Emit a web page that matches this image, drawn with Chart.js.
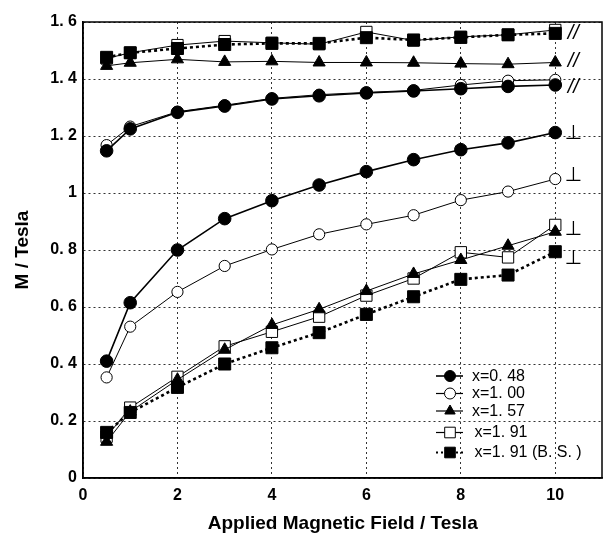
<!DOCTYPE html>
<html>
<head>
<meta charset="utf-8">
<script src="https://cdn.jsdelivr.net/npm/chart.js@4/dist/chart.umd.min.js"></script>
<style>
html,body{margin:0;padding:0;background:#fff;}
#wrap{width:612px;height:538px;}
</style>
</head>
<body>
<div id="wrap"><canvas id="c" width="612" height="538"></canvas></div>
<script>
// ---- data ----
const fieldValues = [0.5, 1, 2, 3, 4, 5, 6, 7, 8, 9, 10];

// parallel (//)
const par_x048   = [1.148, 1.225, 1.283, 1.305, 1.330, 1.341, 1.351, 1.358, 1.366, 1.374, 1.379];
const par_x100   = [1.168, 1.233, 1.285, 1.308, 1.332, 1.345, 1.353, 1.360, 1.379, 1.394, 1.397];
const par_x157   = [1.446, 1.457, 1.469, 1.460, 1.462, 1.458, 1.458, 1.457, 1.454, 1.452, 1.458];
const par_x191   = [1.472, 1.492, 1.519, 1.533, 1.527, 1.522, 1.565, 1.535, 1.548, 1.555, 1.572];
const par_x191bs = [1.476, 1.492, 1.507, 1.521, 1.525, 1.525, 1.545, 1.537, 1.546, 1.555, 1.560];

// perpendicular (⊥)
const perp_x048   = [0.410, 0.615, 0.800, 0.910, 0.973, 1.028, 1.075, 1.117, 1.152, 1.176, 1.212];
const perp_x100   = [0.353, 0.531, 0.653, 0.744, 0.802, 0.855, 0.890, 0.922, 0.975, 1.005, 1.049];
const perp_x157   = [0.127, 0.233, 0.345, 0.450, 0.537, 0.592, 0.656, 0.716, 0.765, 0.815, 0.864];
const perp_x191   = [0.145, 0.247, 0.355, 0.462, 0.513, 0.566, 0.640, 0.700, 0.792, 0.774, 0.888];
const perp_x191bs = [0.160, 0.230, 0.318, 0.400, 0.457, 0.510, 0.574, 0.636, 0.697, 0.712, 0.794];

const seriesLabels = ['x=0. 48', 'x=1. 00', 'x=1. 57', 'x=1. 91', 'x=1. 91 (B. S. )'];
const yTickLabels = {0:'0', 0.2:'0. 2', 0.4:'0. 4', 0.6:'0. 6', 0.8:'0. 8', 1:'1', 1.2:'1. 2', 1.4:'1. 4', 1.6:'1. 6'};

// orientation marks right of x=10
const markX = 10.38;
const parMarkY = [1.56, 1.46, 1.372];
const perpMarkY = [1.209, 1.06, 0.87, 0.768];

// ---- styles ----
const styles = [
  {pointStyle:'circle',   radius:6.3, bg:'#000', bw:1,   lw:1.6, dash:[]},
  {pointStyle:'circle',   radius:5.6, bg:'#fff', bw:1,   lw:1,   dash:[]},
  {pointStyle:'triangle', radius:7,   bg:'#000', bw:1,   lw:1,   dash:[]},
  {pointStyle:'rect',     radius:8,   bg:'#fff', bw:1,   lw:1,   dash:[]},
  {pointStyle:'rect',     radius:8.5, bg:'#000', bw:1,   lw:2.6, dash:[3,3]}
];

function mk(vals, i, label) {
  const s = styles[i];
  return {
    label: label,
    data: fieldValues.map((x, k) => ({x: x, y: vals[k]})),
    borderColor: '#000',
    borderWidth: s.lw,
    borderDash: s.dash,
    backgroundColor: s.bg,
    pointStyle: s.pointStyle,
    pointRadius: s.radius,
    pointHoverRadius: s.radius,
    pointBackgroundColor: s.bg,
    pointBorderColor: '#000',
    pointBorderWidth: s.bw,
    fill: false,
    tension: 0
  };
}

// first dataset is drawn on top
const datasets = [
  mk(perp_x191bs, 4, seriesLabels[4]),
  mk(perp_x157, 2, seriesLabels[2]),
  mk(perp_x191, 3, seriesLabels[3]),
  mk(perp_x048, 0, seriesLabels[0]),
  mk(perp_x100, 1, seriesLabels[1]),
  mk(par_x191bs, 4, seriesLabels[4] + ' //'),
  mk(par_x157, 2, seriesLabels[2] + ' //'),
  mk(par_x191, 3, seriesLabels[3] + ' //'),
  mk(par_x048, 0, seriesLabels[0] + ' //'),
  mk(par_x100, 1, seriesLabels[1] + ' //')
];

function drawMarker(ctx, s, x, y, r) {
  ctx.save();
  ctx.fillStyle = s.bg; ctx.strokeStyle = '#000'; ctx.lineWidth = 1; ctx.setLineDash([]);
  ctx.beginPath();
  if (s.pointStyle === 'circle') {
    ctx.arc(x, y, r, 0, Math.PI * 2);
  } else if (s.pointStyle === 'triangle') {
    const h = r;
    ctx.moveTo(x, y - h);
    ctx.lineTo(x + h * 0.866, y + h * 0.5);
    ctx.lineTo(x - h * 0.866, y + h * 0.5);
    ctx.closePath();
  } else {
    const a = r * Math.SQRT1_2;
    ctx.rect(x - a, y - a, 2 * a, 2 * a);
  }
  ctx.fill(); ctx.stroke();
  ctx.restore();
}

const extrasPlugin = {
  id: 'extras',
  afterDraw(chart) {
    const ctx = chart.ctx;
    const ca = chart.chartArea;
    const xs = chart.scales.x, ys = chart.scales.y;
    // frame
    ctx.save();
    ctx.strokeStyle = '#000';
    ctx.lineWidth = 1.5;
    ctx.setLineDash([]);
    ctx.strokeRect(ca.left, ca.top, ca.right - ca.left - 0.5, ca.bottom - ca.top);
    ctx.restore();

    // orientation marks
    ctx.save();
    ctx.fillStyle = '#000';
    ctx.textAlign = 'center';
    ctx.textBaseline = 'middle';
    ctx.font = 'italic 20px "Liberation Sans", Arial, sans-serif';
    parMarkY.forEach(v => ctx.fillText('//', xs.getPixelForValue(markX), ys.getPixelForValue(v)));
    ctx.font = '20px "DejaVu Sans", sans-serif';
    perpMarkY.forEach(v => ctx.fillText('\u22A5', xs.getPixelForValue(markX), ys.getPixelForValue(v)));
    ctx.restore();

    // legend (inside plot, lower right)
    const lx0 = 436, lx1 = 463, tx = 472;
    const rowsY = [376, 393.5, 411, 432.5, 452.5];
    for (let i = 0; i < 5; i++) {
      const s = styles[i];
      const y = rowsY[i];
      ctx.save();
      ctx.strokeStyle = '#000';
      ctx.lineWidth = i === 4 ? 2 : (i === 0 ? 1.6 : 1.2);
      ctx.setLineDash(i === 4 ? [2, 3] : []);
      ctx.beginPath(); ctx.moveTo(lx0, y); ctx.lineTo(lx1, y); ctx.stroke();
      ctx.restore();
      const r = s.pointStyle === 'rect' ? 7.5 : (s.pointStyle === 'triangle' ? 6 : 5.5);
      drawMarker(ctx, s, (lx0 + lx1) / 2 + 0.5, y, r);
      ctx.save();
      ctx.fillStyle = '#000';
      ctx.font = '16px "Liberation Sans Narrow", "Liberation Sans", Arial, sans-serif';
      ctx.textAlign = 'left';
      ctx.textBaseline = 'middle';
      ctx.fillText(seriesLabels[i], i >= 3 ? tx + 2.5 : tx, y + 0.5);
      ctx.restore();
    }
  }
};

new Chart(document.getElementById('c'), {
  type: 'line',
  data: {datasets: datasets},
  plugins: [extrasPlugin],
  options: {
    responsive: false,
    animation: false,
    events: [],
    layout: {padding: {top: 22, right: 1, left: 0, bottom: 0}},
    plugins: {legend: {display: false}, tooltip: {enabled: false}, title: {display: false}},
    scales: {
      x: {
        type: 'linear',
        min: 0, max: 11,
        afterFit(scale) { scale.height = 60; },
        ticks: {
          stepSize: 2,
          includeBounds: false,
          padding: 8,
          color: '#000',
          font: {family: '"Liberation Sans", Arial, sans-serif', size: 16, weight: 'bold'},
          maxRotation: 0,
          callback: v => String(v)
        },
        grid: {color: '#333', lineWidth: 1, drawTicks: false, tickLength: 0},
        border: {display: true, color: '#000', width: 1.5, dash: [2, 3]},
        title: {
          display: true,
          text: 'Applied Magnetic Field / Tesla',
          color: '#000',
          font: {family: '"Liberation Sans", Arial, sans-serif', size: 19, weight: 'bold'},
          padding: {top: 0, bottom: 3}
        }
      },
      y: {
        type: 'linear',
        min: 0, max: 1.6,
        afterFit(scale) { scale.width = 83; },
        ticks: {
          stepSize: 0.2,
          padding: 6,
          color: '#000',
          font: {family: '"Liberation Sans", Arial, sans-serif', size: 16, weight: 'bold'},
          callback: v => {
            const key = Math.round(v * 10) / 10;
            return yTickLabels[key] !== undefined ? yTickLabels[key] : '';
          }
        },
        grid: {color: '#333', lineWidth: 1, drawTicks: false, tickLength: 0},
        border: {display: true, color: '#000', width: 1.5, dash: [2, 3]},
        title: {
          display: true,
          text: 'M / Tesla',
          color: '#000',
          font: {family: '"Liberation Sans", Arial, sans-serif', size: 19, weight: 'bold'},
          padding: {top: 11, bottom: 0}
        }
      }
    }
  }
});
</script>
</body>
</html>
